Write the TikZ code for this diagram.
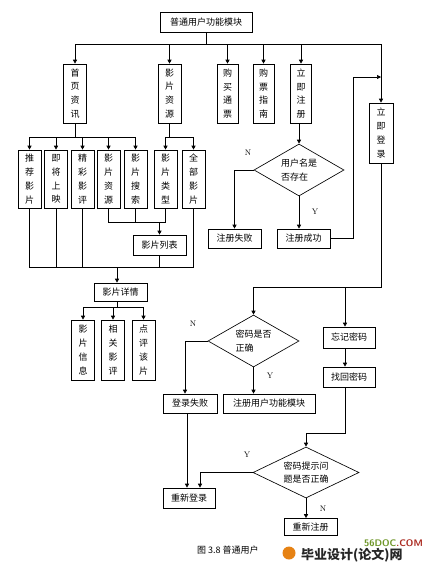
\documentclass[tikz,border=0pt]{standalone}
\usepackage{fontspec}
\newfontfamily\cjk{Noto Sans CJK SC}
\usetikzlibrary{arrows.meta,shapes.geometric}
\definecolor{logogreen}{RGB}{110,150,40}
\definecolor{logored}{RGB}{170,40,30}
\definecolor{logoorange}{RGB}{230,130,20}
\begin{document}
\begin{tikzpicture}[x=1pt,y=-1pt,
  every node/.style={font=\cjk\fontsize{9}{13.8}\selectfont, inner sep=0pt},
  box/.style={draw, line width=0.65pt, align=center},
  vbox/.style={box, minimum width=23pt, minimum height=59pt},
  hbox/.style={box, minimum width=53pt, minimum height=19pt},
  dia/.style={draw, line width=0.65pt, diamond, aspect=1.75, align=left},
  conn/.style={line width=0.65pt},
  arr/.style={conn, -{Triangle[length=4pt,width=4pt]}},
  lbl/.style={font=\rmfamily\fontsize{8}{9}\selectfont}
]
\useasboundingbox (0,0) rectangle (433,570);
% top level
\node[box, minimum width=92pt, minimum height=20pt] (top) at (206,22) {普通用户功能模块};
\node[vbox] (syzx) at (75,93.5) {首\\页\\资\\讯};
\node[vbox] (ypzy) at (169.5,93.5) {影\\片\\资\\源};
\node[vbox, minimum width=21pt] (gmtp) at (227.5,93.5) {购\\买\\通\\票};
\node[vbox, minimum width=21pt] (gpzn) at (263.5,93.5) {购\\票\\指\\南};
\node[vbox, minimum width=21pt] (ljzc) at (301,93.5) {立\\即\\注\\册};
\node[vbox, minimum width=24pt, minimum height=60pt] (ljdl) at (381,133) {立\\即\\登\\录};
% second row
\node[vbox, minimum height=58pt] (tjyp) at (29.5,179) {推\\荐\\影\\片};
\node[vbox, minimum height=58pt] (jjsy) at (56,179) {即\\将\\上\\映};
\node[vbox, minimum height=58pt] (jcyp) at (82.5,179) {精\\彩\\影\\评};
\node[vbox, minimum height=58pt] (ypzyb) at (108.5,179) {影\\片\\资\\源};
\node[vbox, minimum height=58pt] (ypss) at (135.5,179) {影\\片\\搜\\索};
\node[vbox, minimum height=58pt] (yplx) at (165.5,179) {影\\片\\类\\型};
\node[vbox, minimum height=58pt] (qbyp) at (193.5,179) {全\\部\\影\\片};
\node[hbox, minimum height=20pt] (list) at (159.5,245) {影片列表};
\node[hbox, minimum height=18pt] (detail) at (120.5,292) {影片详情};
\node[vbox, minimum height=60pt] (ypxx) at (83,350) {影\\片\\信\\息};
\node[vbox, minimum height=60pt] (xgyp) at (113,350) {相\\关\\影\\评};
\node[vbox, minimum height=60pt] (dpgp) at (143.5,350) {点\\评\\该\\片};
% register branch
\node[dia, minimum width=90pt, minimum height=52pt] (d1) at (299,170) {用户名是\\否存在};
\node[hbox] (fail1) at (234.5,238.5) {注册失败};
\node[hbox] (ok) at (303.5,238.5) {注册成功};
% login branch
\node[dia, minimum width=91pt, minimum height=52pt] (d2) at (253.5,341) {密码是否\\正确};
\node[hbox, minimum width=54pt] (fail2) at (190,403.5) {登录失败};
\node[hbox, minimum width=92pt] (module) at (269,403.5) {注册用户功能模块};
\node[hbox, minimum width=52pt, minimum height=21pt] (forget) at (349,337.5) {忘记密码};
\node[hbox, minimum width=52pt, minimum height=20pt] (find) at (349,377) {找回密码};
\node[dia, minimum width=106pt, minimum height=51pt] (d3) at (306,472.5) {密码提示问\\题是否正确};
\node[hbox, minimum width=52pt, minimum height=20pt] (relogin) at (189,498) {重新登录};
\node[hbox, minimum width=53pt, minimum height=17pt] (rereg) at (310.5,527) {重新注册};
% labels
\node[lbl] (n1) at (248,153) {N};
\node[lbl] (y1) at (315,212) {Y};
\node[lbl] (n2) at (193,324) {N};
\node[lbl] (y2) at (270,376) {Y};
\node[lbl] (y3) at (247,455) {Y};
\node[lbl] (n3) at (323,509) {N};
% connectors: top level
\draw[conn] (top.south) -- (top.south |- 0,44);
\draw[conn] (syzx.north |- 0,44) -- (ljdl.north |- 0,44);
\foreach \n in {syzx,ypzy,gmtp,gpzn,ljzc,ljdl}
  \draw[arr] (\n.north |- 0,44) -- (\n.north);
% second level
\draw[conn] (syzx.south) -- (syzx.south |- 0,137);
\draw[conn] (tjyp.north |- 0,137) -- (ypss.north |- 0,137);
\foreach \n in {tjyp,jjsy,jcyp,ypzyb,ypss}
  \draw[arr] (\n.north |- 0,137) -- (\n.north);
\draw[conn] (ypzy.south) -- (ypzy.south |- 0,137);
\draw[conn] (yplx.north |- 0,137) -- (qbyp.north |- 0,137);
\foreach \n in {yplx,qbyp}
  \draw[arr] (\n.north |- 0,137) -- (\n.north);
% to list
\draw[conn] (ypzyb.south) -- (ypzyb.south |- 0,222) -- (yplx.south |- 0,222) -- (yplx.south);
\draw[conn] (ypss.south) -- (ypss.south |- 0,222);
\draw[arr] (list.north |- 0,222) -- (list.north);
% to detail
\draw[conn] (tjyp.south) -- (tjyp.south |- 0,267) -- (qbyp.south |- 0,267) -- (qbyp.south);
\foreach \n in {jjsy,jcyp,list}
  \draw[conn] (\n.south) -- (\n.south |- 0,267);
\draw[arr] ([xshift=-3.5pt]detail.north |- 0,267) -- ([xshift=-3.5pt]detail.north);
% detail children
\draw[conn] ([xshift=-3.5pt]detail.south) -- ([xshift=-3.5pt]detail.south |- 0,307);
\draw[conn] (ypxx.north |- 0,307) -- (dpgp.north |- 0,307);
\foreach \n in {ypxx,xgyp,dpgp}
  \draw[arr] (\n.north |- 0,307) -- (\n.north);
% register
\draw[arr] (d1.north |- ljzc.south) -- (d1.north);
\draw[arr] (d1.west) -| (fail1.north);
\draw[arr] (d1.south) -- (d1.south |- ok.north);
\coordinate (j1) at (353,77);
\draw[arr] (ok.east) -| (j1) -- (j1 -| ljdl.north);
% login
\draw[conn] (ljdl.south) -- (ljdl.south |- 0,287) -- (d2.north |- 0,287);
\draw[arr] (d2.north |- 0,287) -- (d2.north);
\draw[arr] ([xshift=-4pt]forget.north |- 0,287) -- ([xshift=-4pt]forget.north);
\draw[arr] (d2.west) -| ([xshift=-5pt]fail2.north);
\draw[arr] (d2.south) -- (d2.south |- module.north);
\draw[arr] ([xshift=-4pt]forget.south) -- ([xshift=-4pt]find.north);
\draw[arr] ([xshift=-4pt]find.south) -- ([xshift=-4pt]find.south |- 0,433) -| (d3.north);
\draw[arr] ([xshift=-3pt]fail2.south) -- ([xshift=-3pt]fail2.south |- relogin.north);
\draw[arr] (d3.west) -| ([xshift=11pt]relogin.north);
\draw[arr] (d3.south) -- (d3.south |- rereg.north);
% caption and logo
\node[anchor=west] (cap) at (197,550) {图 3.8 普通用户};
\fill[logoorange] (289,553) circle (6.5pt);
\node[anchor=west, font=\cjk\bfseries\fontsize{13}{14}\selectfont, text=black!85] (logo) at (301,555) {毕业设计(论文)网};
\node[anchor=east, font=\sffamily\bfseries\fontsize{9.5}{10}\selectfont] (site) at (423,543) {\textcolor{logogreen}{56DOC}\textcolor{logored}{.COM}};
\end{tikzpicture}
\end{document}
